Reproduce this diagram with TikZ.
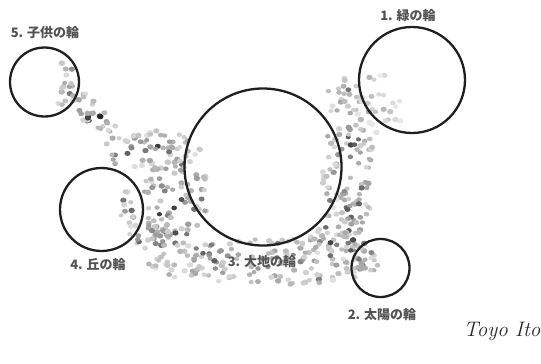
\documentclass[tikz,border=0pt]{standalone}
\usepackage{fontspec}
\newfontfamily\jp{Noto Sans CJK JP}
\begin{document}
\begin{tikzpicture}[x=1pt,y=-1pt,
  ring/.style={circle,draw=black!88,line width=2.3pt,inner sep=0pt,fill=none},
  lbl/.style={font=\jp\bfseries\fontsize{13}{15}\selectfont,text=black!68,inner sep=0pt},
  sig/.style={font=\itshape\fontsize{21}{23}\selectfont,text=black!85,inner sep=0pt}]
\useasboundingbox (0,0) rectangle (541,364);
\pgfmathsetseed{23}
\foreach \cx/\cy/\rx/\ry/\t/\n/\k in {
  64/85/11/25/0/16/0.9,
  95/115/28/16/40/30/1.1,
  148/150/50/20/0/50/1,
  170/200/27/57/0/75/1.1,
  150/235/25/15/0/22/1,
  127/210/9/22/0/12/0.9,
  265/262/118/24/0/150/1,
  348/170/26/82/0/100/1,
  380/105/24/32/0/28/0.6,
  345/95/18/18/0/16/0.8,
  197/185/11/45/0/16/0.8,
  330/190/9/38/0/12/0.8,
  364/262/9/14/0/10/0.9,
  340/240/30/20/0/35/1.1}{
  \foreach \i in {1,...,\n}{
    \pgfmathsetmacro\rr{sqrt(rnd)}
    \pgfmathsetmacro\aa{360*rnd}
    \pgfmathsetmacro\uu{\rx*\rr*cos(\aa)}
    \pgfmathsetmacro\vv{\ry*\rr*sin(\aa)}
    \pgfmathsetmacro\px{\cx+\uu*cos(\t)-\vv*sin(\t)}
    \pgfmathsetmacro\py{\cy+\uu*sin(\t)+\vv*cos(\t)}
    \pgfmathtruncatemacro\g{\k*(rnd<0.12 ? 62+12*rnd : 18+30*rnd)*(1.2-0.55*\rr)}
    \pgfmathsetmacro\ea{2.5+0.8*rnd}
    \fill[black!\g] (\px,\py) ellipse ({\ea} and {\ea*0.85});
  }
}
\node[ring,minimum size=69pt] (c5) at (44.5,82) {};
\node[ring,minimum size=106pt] (c1) at (412,80) {};
\node[ring,minimum size=157pt] (c3) at (263,167) {};
\node[ring,minimum size=83pt] (c4) at (101.5,209.5) {};
\node[ring,minimum size=58pt] (c2) at (380.5,268) {};
\node[lbl] (l5) at (45,33) {5. 子供の輪};
\node[lbl] (l1) at (408,16) {1. 緑の輪};
\node[lbl] (l3) at (262,262) {3. 大地の輪};
\node[lbl] (l4) at (98,265) {4. 丘の輪};
\node[lbl] (l2) at (382,315) {2. 太陽の輪};
\node[sig] (sig) at (502,331) {Toyo Ito};
\end{tikzpicture}
\end{document}
